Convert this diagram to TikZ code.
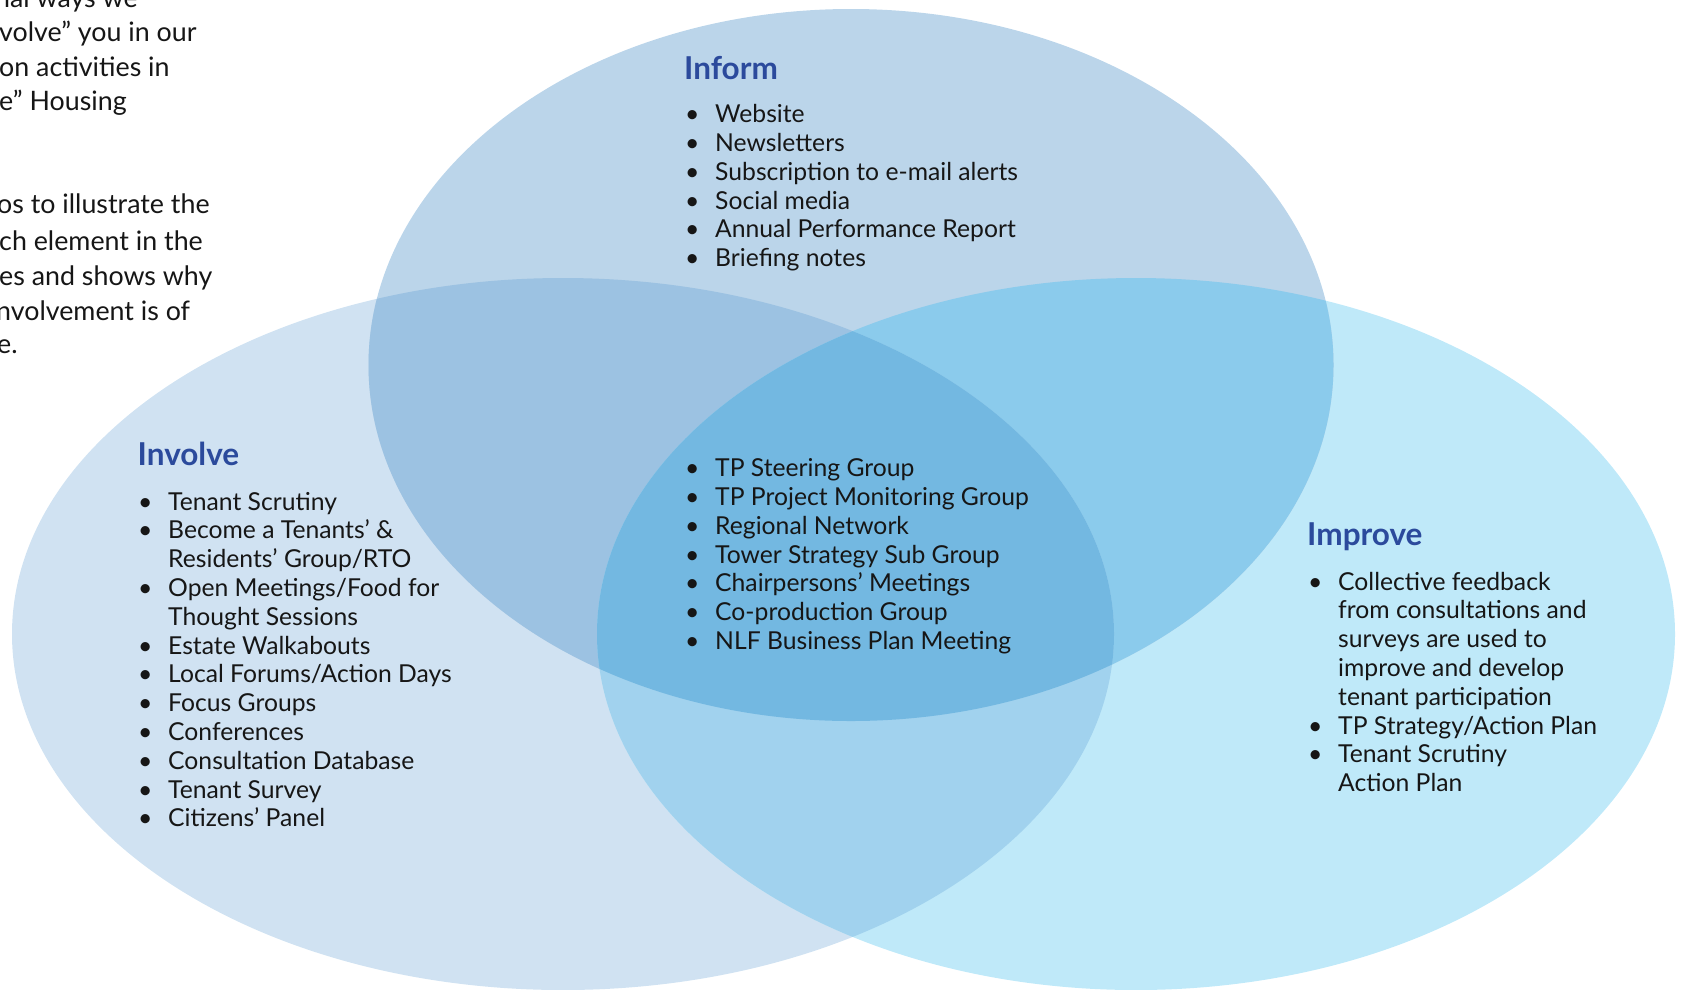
\documentclass[tikz,border=0pt]{standalone}
\usepackage{fontspec}
\setmainfont{Lato}
\usetikzlibrary{positioning}

\definecolor{cinvolve}{HTML}{D0E2F2}
\definecolor{cinform}{HTML}{BBD5EA}
\definecolor{cimprove}{HTML}{BFE9F9}
\definecolor{cinfinv}{HTML}{9CC2E2}
\definecolor{cinfimp}{HTML}{8BCBEC}
\definecolor{cinvimp}{HTML}{A1D2EE}
\definecolor{ccentre}{HTML}{73B8E1}
\definecolor{headblue}{HTML}{2B4A9C}
\definecolor{ink}{HTML}{161616}

\newcommand{\bul}{\makebox[30pt][l]{•}}

\tikzset{
  heading/.style={anchor=base west, inner sep=0pt, text=headblue,
    font=\fontsize{31.5}{36}\selectfont\bfseries},
  itemlist/.style={anchor=base west, inner sep=0pt, text=ink,
    font=\fontsize{24.7}{28.8}\selectfont},
  introline/.style={anchor=base west, inner sep=0pt, text=ink,
    font=\fontsize{26.8}{34.4}\selectfont}
}

\begin{document}
\begin{tikzpicture}[x=1pt, y=-1pt]
\useasboundingbox (0,0) rectangle (1685,989);

% the three sets
\fill[cinvolve] (563,634) ellipse [x radius=551pt, y radius=356pt];
\fill[cimprove] (1136,634) ellipse [x radius=539pt, y radius=356pt];
\fill[cinform] (851,365) ellipse [x radius=482.5pt, y radius=356pt];

% pairwise overlaps
\begin{scope}
  \clip (851,365) ellipse [x radius=482.5pt, y radius=356pt];
  \fill[cinfinv] (563,634) ellipse [x radius=551pt, y radius=356pt];
  \fill[cinfimp] (1136,634) ellipse [x radius=539pt, y radius=356pt];
\end{scope}
\begin{scope}
  \clip (563,634) ellipse [x radius=551pt, y radius=356pt];
  \fill[cinvimp] (1136,634) ellipse [x radius=539pt, y radius=356pt];
\end{scope}

% common core
\begin{scope}
  \clip (851,365) ellipse [x radius=482.5pt, y radius=356pt];
  \clip (563,634) ellipse [x radius=551pt, y radius=356pt];
  \fill[ccentre] (1136,634) ellipse [x radius=539pt, y radius=356pt];
\end{scope}

% introductory paragraph, running in from the left margin
\node[introline] (p1) at (-5,7.3) {nal ways we};
\node[introline] (p2) at (-1,41.7) {volve” you in our};
\node[introline] (p3) at (-1,76) {on activities in};
\node[introline] (p4) at (-1,110.4) {e” Housing};
\node[introline] (p5) at (-3,213.3) {os to illustrate the};
\node[introline] (p6) at (-1,250) {ch element in the};
\node[introline] (p7) at (-1,285) {es and shows why};
\node[introline] (p8) at (-4,320) {nvolvement is of};
\node[introline] (p9) at (-3,353) {e.};

% Inform
\node[heading] (hinform) at (684,79.3) {Inform};
\node[itemlist] (linform) at (685,122.7) {%
\begin{tabular}[t]{@{}l@{}l@{}}
\bul & Website\\
\bul & Newsletters\\
\bul & Subscription to e-mail alerts\\
\bul & Social media\\
\bul & Annual Performance Report\\
\bul & Briefing notes
\end{tabular}};

% Involve
\node[heading] (hinvolve) at (137.5,465) {Involve};
\node[itemlist] (linvolve) at (138,510) {%
\begin{tabular}[t]{@{}l@{}l@{}}
\bul & Tenant Scrutiny\\
\bul & Become a Tenants’ \&\\
     & Residents’ Group/RTO\\
\bul & Open Meetings/Food for\\
     & Thought Sessions\\
\bul & Estate Walkabouts\\
\bul & Local Forums/Action Days\\
\bul & Focus Groups\\
\bul & Conferences\\
\bul & Consultation Database\\
\bul & Tenant Survey\\
\bul & Citizens’ Panel
\end{tabular}};

% Improve
\node[heading] (himprove) at (1307,545) {Improve};
\node[itemlist] (limprove) at (1308,590) {%
\begin{tabular}[t]{@{}l@{}l@{}}
\bul & Collective feedback\\
     & from consultations and\\
     & surveys are used to\\
     & improve and develop\\
     & tenant participation\\
\bul & TP Strategy/Action Plan\\
\bul & Tenant Scrutiny\\
     & Action Plan
\end{tabular}};

% shared by all three
\node[itemlist] (lcore) at (685,476.7) {%
\begin{tabular}[t]{@{}l@{}l@{}}
\bul & TP Steering Group\\
\bul & TP Project Monitoring Group\\
\bul & Regional Network\\
\bul & Tower Strategy Sub Group\\
\bul & Chairpersons’ Meetings\\
\bul & Co-production Group\\
\bul & NLF Business Plan Meeting
\end{tabular}};
\end{tikzpicture}
\end{document}
